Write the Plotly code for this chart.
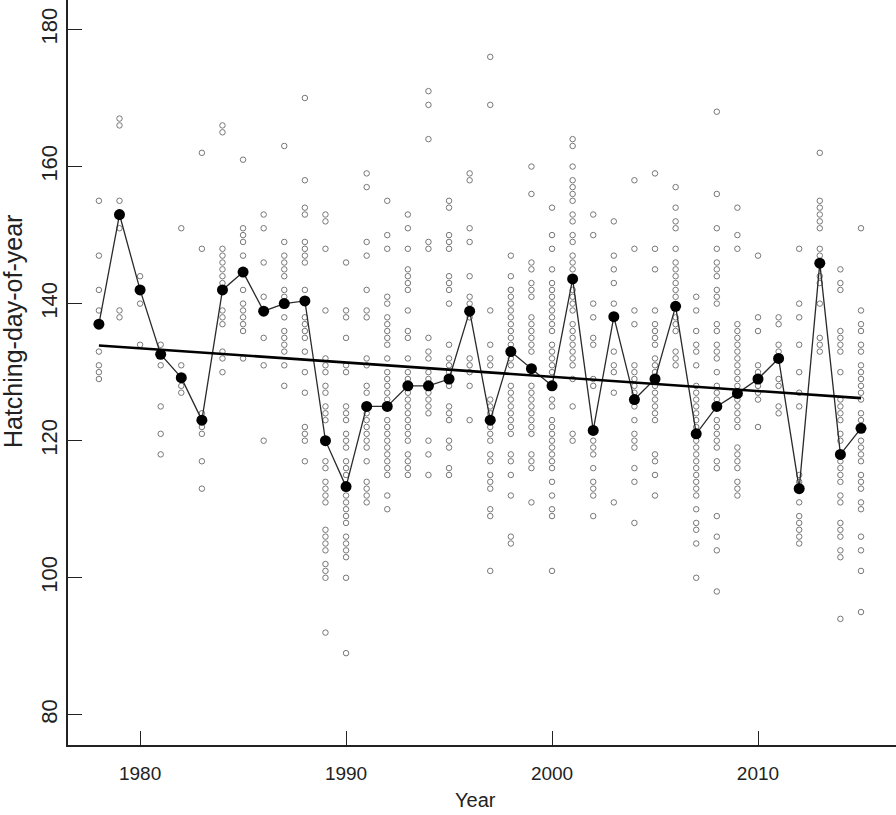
import plotly.graph_objects as go

years = list(range(1978, 2016))

# yearly mean hatching day (black dots)
means = [137, 153, 142, 132.6, 129.2, 123, 142, 144.6, 138.9, 140,
         140.4, 120, 113.3, 125, 125, 128, 128, 129, 138.9, 123,
         133, 130.5, 128, 143.6, 121.5, 138.1, 126, 129, 139.6, 121,
         125, 126.9, 129, 132, 113, 145.9, 118, 121.8]

# individual hatching days per year (grey circles), same order as years
hatch_days = [
    [155, 147, 142, 139, 133, 131, 130, 129],
    [167, 166, 155, 151, 139, 138],
    [144, 142, 140, 134],
    [134, 131, 125, 121, 118],
    [151, 131, 128, 127],
    [162, 148, 124, 122, 121, 117, 113],
    [166, 165, 148, 147, 146, 145, 144, 143, 139, 138, 137, 133, 132, 130],
    [161, 151, 150, 149, 147, 142, 140, 139, 138, 137, 136, 132],
    [153, 151, 146, 141, 135, 131, 120],
    [163, 149, 147, 146, 145, 144, 142, 141, 138, 136, 135, 134, 133, 131, 128],
    [170, 158, 154, 153, 149, 148, 147, 146, 142, 138, 137, 136, 135, 133, 130, 127, 122, 121, 120, 117],
    [153, 152, 148, 139, 132, 131, 130, 128, 127, 125, 124, 123, 117, 116, 114, 113, 112, 111, 107, 106,
     105, 104, 102, 101, 100, 92],
    [146, 139, 138, 135, 131, 130, 125, 124, 123, 121, 120, 119, 117, 116, 115, 112, 111, 110, 109, 108,
     106, 105, 104, 103, 100, 89],
    [159, 157, 149, 147, 142, 139, 138, 132, 131, 128, 127, 124, 123, 122, 121, 120, 119, 117, 114, 113,
     112, 111],
    [155, 150, 148, 141, 140, 138, 137, 136, 135, 134, 132, 130, 129, 128, 127, 126, 123, 122, 121, 120,
     119, 118, 117, 116, 115, 112, 110],
    [153, 151, 148, 145, 144, 143, 142, 139, 136, 135, 132, 130, 129, 127, 126, 125, 124, 123, 122, 121,
     120, 118, 117, 116, 115],
    [171, 169, 164, 149, 148, 135, 133, 132, 130, 129, 127, 126, 125, 124, 120, 118, 115],
    [155, 154, 150, 149, 148, 144, 143, 142, 140, 134, 132, 131, 130, 128, 125, 124, 123, 120, 119, 116, 115],
    [159, 158, 151, 149, 144, 141, 140, 138, 132, 131, 130, 128, 123],
    [176, 169, 139, 134, 132, 131, 126, 125, 124, 122, 121, 120, 118, 117, 115, 114, 113, 110, 109, 101],
    [147, 144, 142, 141, 140, 139, 138, 137, 136, 135, 134, 132, 131, 128, 127, 126, 125, 124, 123, 122,
     121, 118, 117, 115, 112, 106, 105],
    [160, 156, 146, 145, 143, 142, 141, 138, 137, 136, 135, 134, 133, 128, 127, 126, 125, 124, 123, 122,
     121, 118, 117, 116, 111],
    [154, 150, 148, 145, 143, 142, 141, 140, 139, 138, 137, 136, 134, 133, 132, 131, 130, 126, 125, 123,
     122, 121, 120, 119, 118, 117, 116, 114, 112, 110, 109, 101],
    [164, 163, 160, 158, 157, 156, 155, 153, 152, 150, 149, 147, 146, 145, 142, 141, 140, 139, 137, 136,
     135, 134, 133, 132, 131, 129, 125, 121, 120],
    [153, 150, 140, 138, 135, 134, 129, 128, 120, 119, 118, 116, 114, 113, 112, 109],
    [152, 147, 145, 143, 140, 133, 131, 130, 127, 111],
    [158, 148, 139, 137, 131, 130, 129, 128, 127, 125, 123, 121, 120, 119, 116, 114, 108],
    [159, 148, 145, 139, 137, 136, 135, 134, 132, 131, 130, 128, 127, 126, 125, 124, 123, 118, 117, 115, 112],
    [157, 154, 152, 151, 148, 146, 145, 144, 143, 142, 141, 138, 137, 136, 133, 132, 131],
    [141, 139, 136, 134, 133, 131, 128, 127, 126, 125, 124, 123, 122, 120, 119, 118, 117, 116, 115, 114,
     113, 112, 110, 108, 107, 105, 100],
    [168, 156, 151, 148, 146, 145, 144, 142, 141, 140, 137, 136, 134, 133, 132, 130, 128, 127, 126, 123,
     122, 121, 120, 119, 117, 116, 109, 106, 104, 98],
    [154, 150, 148, 137, 136, 135, 134, 133, 132, 131, 130, 129, 128, 126, 125, 124, 123, 122, 119, 118,
     117, 116, 114, 113, 112],
    [147, 138, 136, 131, 130, 128, 127, 126, 122],
    [138, 137, 134, 133, 129, 128, 125, 124],
    [148, 140, 138, 134, 130, 127, 125, 115, 114, 111, 109, 108, 107, 106, 105],
    [162, 155, 154, 153, 152, 151, 148, 147, 144, 143, 140, 135, 134, 133],
    [145, 143, 142, 136, 135, 134, 133, 130, 126, 125, 124, 123, 121, 120, 117, 116, 115, 114, 112, 111,
     108, 107, 106, 104, 103, 94],
    [151, 139, 137, 136, 134, 133, 131, 130, 129, 128, 127, 126, 124, 123, 120, 119, 118, 117, 115, 114,
     113, 111, 110, 106, 104, 101, 95],
]

# linear trend
trend_intercept = 133.9   # value at 1978
trend_slope = -0.208      # days per year

x_pts = [yr for yr, days in zip(years, hatch_days) for _ in days]
y_pts = [d for days in hatch_days for d in days]

trend_x = [years[0], years[-1]]
trend_y = [trend_intercept + trend_slope * (yr - years[0]) for yr in trend_x]

fig = go.Figure()
fig.add_trace(go.Scatter(
    x=x_pts, y=y_pts, mode="markers",
    marker=dict(symbol="circle-open", size=5.5, color="#777777", line=dict(width=1, color="#777777")),
    hoverinfo="skip"))
fig.add_trace(go.Scatter(
    x=years, y=means, mode="lines",
    line=dict(color="#2a2a2a", width=1.3)))
fig.add_trace(go.Scatter(
    x=trend_x, y=trend_y, mode="lines",
    line=dict(color="black", width=2.6)))
fig.add_trace(go.Scatter(
    x=years, y=means, mode="markers",
    marker=dict(symbol="circle", size=11, color="black")))

sans = "Liberation Sans, Arial, sans-serif"

fig.update_layout(
    width=896, height=815,
    margin=dict(l=68, r=0, t=0, b=70),
    plot_bgcolor="white", paper_bgcolor="white",
    showlegend=False,
    font=dict(family=sans, size=17, color="#222222"),
    xaxis=dict(range=[1976.5, 2016.7], tickvals=[1980, 1990, 2000, 2010],
               showgrid=False, zeroline=False, showline=True, linecolor="#222", linewidth=1.5,
               ticks="inside", ticklen=14, tickwidth=1.3, tickcolor="#222",
               tickfont=dict(size=19), ticklabelstandoff=10),
    yaxis=dict(range=[75.6, 184.3], tickvals=[80, 100, 120, 140, 160, 180],
               showgrid=False, zeroline=False, showline=True, linecolor="#222", linewidth=1.5,
               ticks="inside", ticklen=14, tickwidth=1.3, tickcolor="#222",
               tickfont=dict(size=22), tickangle=-90, ticklabelstandoff=0),
    annotations=[
        dict(text="Year", x=0.492, y=-0.074, xref="paper", yref="paper",
             xanchor="center", yanchor="middle", showarrow=False,
             font=dict(size=20)),
        dict(text="Hatching-day-of-year", x=-0.067, y=0.555, xref="paper", yref="paper",
             xanchor="center", yanchor="middle", textangle=-90, showarrow=False,
             font=dict(size=25)),
    ],
)

fig.write_html("out.html", config={"displayModeBar": False},
               post_script="document.body.style.margin='0';")
